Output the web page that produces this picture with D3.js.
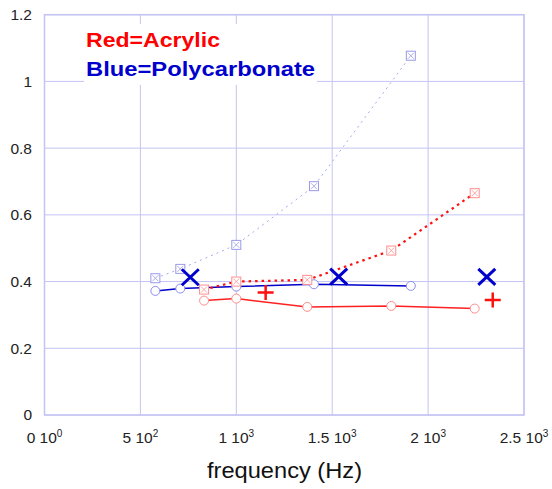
<!DOCTYPE html>
<html>
<head>
<meta charset="utf-8">
<script src="https://cdn.jsdelivr.net/npm/d3@7"></script>
<style>
body { margin: 0; background: #fff; }
svg { display: block; font-family: "Liberation Sans", Arial, sans-serif; }
</style>
</head>
<body>
<script>
// acrylic (red)
var acrylicFreq = [832, 1000, 1370, 1808, 2243];
var acrylicSolid = [0.343, 0.349, 0.324, 0.327, 0.319];
var acrylicDotted = [0.376, 0.400, 0.405, 0.493, 0.665];
// polycarbonate (blue)
var polyFreq = [578, 708, 1000, 1405, 1910];
var polySolid = [0.372, 0.379, 0.385, 0.392, 0.387];
var polyDotted = [0.410, 0.438, 0.510, 0.686, 1.077];
// single markers
var blueXFreq = [760, 1534, 2306];
var blueXVal = [0.413, 0.415, 0.414];
var redPlusFreq = [1153, 2337];
var redPlusVal = [0.367, 0.345];
// ticks
var xTicks = [0, 500, 1000, 1500, 2000, 2500];
var xTickMant = ["0", "5", "1", "1.5", "2", "2.5"];
var xTickExp = ["0", "2", "3", "3", "3", "3"];
var yTicks = [0, 0.2, 0.4, 0.6, 0.8, 1, 1.2];

var width = 552, height = 489;
var plotLeft = 44.5, plotRight = 524, plotTop = 14.7, plotBottom = 415;

var svg = d3.select("body").append("svg")
	.attr("width", width)
	.attr("height", height);

var x = d3.scaleLinear().domain([0, 2500]).range([plotLeft, plotRight]);
var y = d3.scaleLinear().domain([0, 1.2]).range([plotBottom, plotTop]);

var gridColor = "#c4c4f4";

// grid
svg.selectAll("line.vg")
	.data(xTicks)
	.enter()
	.append("line")
	.attr("x1", function(d) { return x(d); })
	.attr("x2", function(d) { return x(d); })
	.attr("y1", plotTop)
	.attr("y2", plotBottom)
	.attr("stroke", gridColor)
	.attr("stroke-width", 1);

svg.selectAll("line.hg")
	.data(yTicks)
	.enter()
	.append("line")
	.attr("x1", plotLeft)
	.attr("x2", plotRight)
	.attr("y1", function(d) { return y(d); })
	.attr("y2", function(d) { return y(d); })
	.attr("stroke", gridColor)
	.attr("stroke-width", 1);

svg.append("rect")
	.attr("x", plotLeft)
	.attr("y", plotTop)
	.attr("width", plotRight - plotLeft)
	.attr("height", plotBottom - plotTop)
	.attr("fill", "none")
	.attr("stroke", gridColor)
	.attr("stroke-width", 1.5);

// tick labels
svg.selectAll("text.yt")
	.data(yTicks)
	.enter()
	.append("text")
	.text(function(d) { return d; })
	.attr("x", 32)
	.attr("y", function(d) { return y(d); })
	.attr("dy", "0.35em")
	.attr("text-anchor", "end")
	.attr("font-size", "15.5px")
	.attr("fill", "#222");

var xt = svg.selectAll("text.xt")
	.data(xTicks)
	.enter()
	.append("text")
	.attr("x", function(d) { return x(d); })
	.attr("y", 443)
	.attr("text-anchor", "middle")
	.attr("font-size", "15.5px")
	.attr("fill", "#222");
xt.append("tspan").text(function(d, i) { return xTickMant[i] + " 10"; });
xt.append("tspan")
	.text(function(d, i) { return xTickExp[i]; })
	.attr("font-size", "10px")
	.attr("dy", "-6");

svg.append("text")
	.text("frequency (Hz)")
	.attr("x", 207)
	.attr("y", 478)
	.attr("textLength", 155)
	.attr("lengthAdjust", "spacingAndGlyphs")
	.attr("font-size", "22.5px")
	.attr("fill", "#111");

// legend
svg.append("rect")
	.attr("x", 84)
	.attr("y", 24)
	.attr("width", 233)
	.attr("height", 61)
	.attr("fill", "#fff");
svg.append("text")
	.text("Red=Acrylic")
	.attr("x", 86)
	.attr("y", 47)
	.attr("textLength", 134)
	.attr("lengthAdjust", "spacingAndGlyphs")
	.attr("font-size", "21px")
	.attr("font-weight", "bold")
	.attr("fill", "#ff0000");
svg.append("text")
	.text("Blue=Polycarbonate")
	.attr("x", 86)
	.attr("y", 76)
	.attr("textLength", 229)
	.attr("lengthAdjust", "spacingAndGlyphs")
	.attr("font-size", "21px")
	.attr("font-weight", "bold")
	.attr("fill", "#0000cc");

var line = d3.line()
	.x(function(d) { return x(d[0]); })
	.y(function(d) { return y(d[1]); });

function pairs(fs, vs) {
	return fs.map(function(f, i) { return [f, vs[i]]; });
}

function circles(data, color) {
	svg.append("g").selectAll("circle")
		.data(data)
		.enter()
		.append("circle")
		.attr("cx", function(d) { return x(d[0]); })
		.attr("cy", function(d) { return y(d[1]); })
		.attr("r", 4.5)
		.attr("fill", "#fff")
		.attr("stroke", color)
		.attr("stroke-width", 1);
}

function boxes(data, color) {
	var g = svg.append("g").selectAll("g")
		.data(data)
		.enter()
		.append("g")
		.attr("transform", function(d) { return "translate(" + x(d[0]) + "," + y(d[1]) + ")"; });
	g.append("rect")
		.attr("x", -4.5).attr("y", -4.5)
		.attr("width", 9).attr("height", 9)
		.attr("fill", "#fff")
		.attr("stroke", color)
		.attr("stroke-width", 1);
	g.append("path")
		.attr("d", "M-3,-3L3,3M-3,3L3,-3")
		.attr("stroke", color)
		.attr("stroke-width", 0.8);
}

// polycarbonate solid
var polyS = pairs(polyFreq, polySolid);
svg.append("path")
	.attr("d", line(polyS))
	.attr("fill", "none")
	.attr("stroke", "#0000cc")
	.attr("stroke-width", 1.5);
circles(polyS, "#8c8cf0");

// acrylic solid
var acrS = pairs(acrylicFreq, acrylicSolid);
svg.append("path")
	.attr("d", line(acrS))
	.attr("fill", "none")
	.attr("stroke", "#ff2020")
	.attr("stroke-width", 1.5);
circles(acrS, "#ff8c8c");

// polycarbonate dotted
var polyD = pairs(polyFreq, polyDotted);
svg.append("path")
	.attr("d", line(polyD))
	.attr("fill", "none")
	.attr("stroke", "#a8a8f0")
	.attr("stroke-width", 1)
	.attr("stroke-dasharray", "2,4");
boxes(polyD, "#9a9ae8");

// acrylic dotted
var acrD = pairs(acrylicFreq, acrylicDotted);
svg.append("path")
	.attr("d", line(acrD))
	.attr("fill", "none")
	.attr("stroke", "#ff1010")
	.attr("stroke-width", 2.2)
	.attr("stroke-dasharray", "2.5,4");
boxes(acrD, "#ff9090");

// big blue X
svg.append("g").selectAll("path")
	.data(pairs(blueXFreq, blueXVal))
	.enter()
	.append("path")
	.attr("transform", function(d) { return "translate(" + x(d[0]) + "," + y(d[1]) + ")"; })
	.attr("d", "M-8.5,-8L8.5,8M-8.5,8L8.5,-8")
	.attr("stroke", "#0000cc")
	.attr("stroke-width", 3);

// red plus
svg.append("g").selectAll("path")
	.data(pairs(redPlusFreq, redPlusVal))
	.enter()
	.append("path")
	.attr("transform", function(d) { return "translate(" + x(d[0]) + "," + y(d[1]) + ")"; })
	.attr("d", "M-8,0L8,0M0,-7.5L0,7.5")
	.attr("stroke", "#ff1010")
	.attr("stroke-width", 2.5);
</script>
</body>
</html>
